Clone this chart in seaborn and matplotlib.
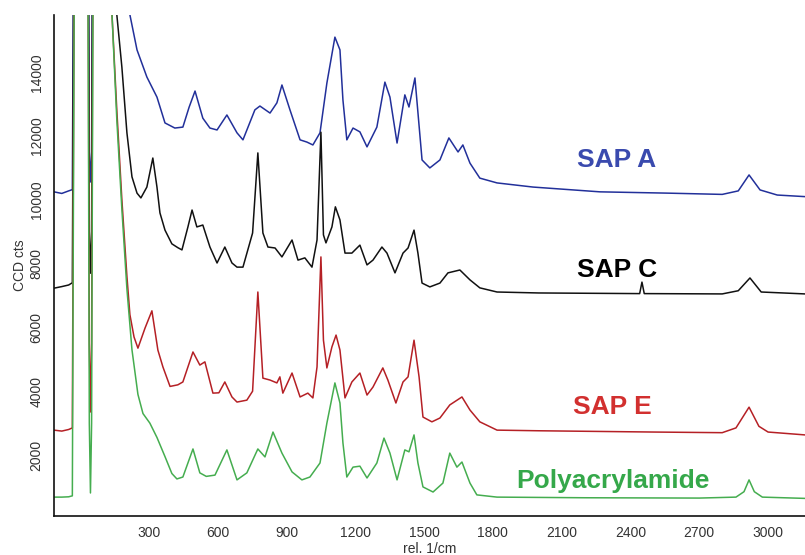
import matplotlib
matplotlib.use("Agg")
import matplotlib.pyplot as plt
import seaborn as sns
import pandas as pd

# ---------------- data ----------------
# Raman shift (rel. 1/cm) and intensity (CCD cts) for each spectrum
x_sap_a = [-114, -80, -50, -34, -14, 25, 40, 45, 50, 66, 150, 217, 248, 291, 335, 370, 413, 448,
           475, 501, 535, 566, 597, 640, 684, 710, 762, 784, 828, 858, 880, 915, 959, 989, 1015,
           1046, 1076, 1111, 1133, 1146, 1163, 1190, 1220, 1251, 1294, 1329, 1351, 1382, 1416,
           1434, 1460, 1491, 1525, 1569, 1608, 1648, 1669, 1700, 1743, 1818, 1975, 2267, 2559,
           2800, 2870, 2917, 2965, 3040, 3161]
y_sap_a = [10250, 10200, 10280, 10320, 40000, 40000, 11500, 10560, 11500, 40000, 22000, 15800,
           14700, 13850, 13220, 12410, 12250, 12280, 12900, 13410, 12560, 12250, 12190, 12660,
           12100, 11880, 12820, 12940, 12720, 13040, 13600, 12820, 11880, 11810, 11720, 12100,
           13660, 15100, 14700, 13130, 11880, 12250, 12130, 11660, 12280, 13690, 13220, 11780,
           13290, 12910, 13820, 11250, 11000, 11250, 11940, 11500, 11720, 11150, 10680, 10530,
           10400, 10250, 10210, 10170, 10280, 10780, 10310, 10150, 10100]

x_sap_c = [-114, -80, -50, -34, -14, 25, 40, 45, 50, 66, 120, 160, 182, 204, 226, 248, 265, 291,
           317, 335, 348, 370, 400, 426, 444, 470, 488, 509, 535, 566, 597, 631, 662, 684, 710,
           752, 775, 797, 819, 850, 880, 924, 950, 980, 1011, 1033, 1050, 1061, 1072, 1098, 1113,
           1133, 1155, 1185, 1220, 1251, 1277, 1316, 1338, 1373, 1408, 1430, 1456, 1473, 1491,
           1525, 1569, 1604, 1656, 1700, 1743, 1818, 2000, 2440, 2450, 2460, 2800, 2870, 2921,
           2970, 3161]
y_sap_c = [7230, 7280, 7330, 7400, 40000, 40000, 9000, 7700, 9000, 40000, 22000, 15800, 14160,
           12100, 10720, 10210, 10060, 10400, 11310, 10400, 9590, 9050, 8620, 8500, 8430, 9150,
           9680, 9150, 9210, 8520, 8020, 8520, 8020, 7890, 7890, 8960, 11470, 8960, 8520, 8490,
           8210, 8740, 8110, 8180, 7890, 8740, 12120, 8900, 8650, 9150, 9780, 9370, 8330, 8330,
           8580, 7960, 8110, 8520, 8330, 7710, 8330, 8490, 9050, 8330, 7390, 7270, 7390, 7710,
           7800, 7490, 7240, 7110, 7080, 7060, 7420, 7060, 7050, 7150, 7550, 7110, 7050]

x_sap_e = [-114, -80, -50, -34, -14, 25, 40, 45, 50, 66, 100, 139, 160, 182, 204, 217, 235, 252,
           283, 313, 339, 361, 392, 426, 448, 492, 522, 544, 579, 605, 631, 662, 684, 727, 752,
           775, 797, 828, 858, 871, 884, 924, 959, 993, 1015, 1033, 1050, 1061, 1076, 1098, 1116,
           1133, 1155, 1185, 1220, 1251, 1277, 1320, 1342, 1377, 1408, 1430, 1456, 1478, 1495,
           1534, 1569, 1612, 1665, 1700, 1743, 1818, 2000, 2500, 2800, 2860, 2917, 2960, 3000,
           3161]
y_sap_e = [2780, 2750, 2800, 2850, 40000, 40000, 5500, 3350, 5500, 40000, 30000, 15800, 12800,
           10000, 7600, 6400, 5700, 5350, 5980, 6520, 5290, 4760, 4150, 4200, 4290, 5230, 4820,
           4920, 3940, 3950, 4290, 3820, 3660, 3720, 4000, 7110, 4410, 4350, 4260, 4450, 3940,
           4570, 3820, 3940, 3790, 4760, 8210, 5600, 4730, 5390, 5760, 5290, 3790, 4290, 4570,
           3880, 4130, 4730, 4350, 3630, 4290, 4450, 5600, 4450, 3190, 3040, 3160, 3570, 3820,
           3410, 3040, 2780, 2760, 2720, 2700, 2850, 3500, 2900, 2720, 2630]

x_pam = [-114, -80, -50, -34, -14, 25, 40, 45, 50, 66, 100, 139, 160, 182, 204, 226, 252, 274,
         304, 335, 370, 400, 422, 448, 492, 522, 550, 588, 640, 684, 727, 775, 806, 841, 880, 924,
         967, 1002, 1046, 1076, 1111, 1133, 1146, 1163, 1190, 1220, 1251, 1294, 1325, 1351, 1382,
         1416, 1434, 1456, 1473, 1495, 1539, 1582, 1612, 1643, 1665, 1700, 1730, 1818, 2200, 2700,
         2860, 2895, 2917, 2940, 2975, 3161]
y_pam = [680, 680, 690, 720, 40000, 40000, 3000, 810, 3000, 40000, 30000, 15800, 12500, 9700,
         7200, 5300, 3900, 3300, 3000, 2550, 1950, 1420, 1250, 1310, 2190, 1440, 1330, 1370, 2160,
         1220, 1440, 2190, 1940, 2720, 2060, 1470, 1220, 1310, 1750, 3000, 4260, 3630, 2380, 1310,
         1620, 1650, 1280, 1750, 2530, 2060, 1220, 2160, 2100, 2630, 1750, 1000, 840, 1120, 2060,
         1620, 1780, 1120, 750, 680, 660, 650, 680, 850, 1220, 850, 680, 640]

series_names = ["SAP A", "SAP C", "SAP E", "Polyacrylamide"]
line_colors = ["#22309a", "#111111", "#b52025", "#45ad4f"]
label_colors = ["#3a4aae", "#000000", "#d2302f", "#35a84a"]
label_pos = [(2341, 11250), (2341, 7800), (2319, 3505), (2323, 1185)]

x_ticks = [300, 600, 900, 1200, 1500, 1800, 2100, 2400, 2700, 3000]
y_ticks = [2000, 4000, 6000, 8000, 10000, 12000, 14000]

# ---------------- plot ----------------
sns.set_style("white")
plt.rcParams["font.family"] = ["Liberation Sans", "DejaVu Sans"]

fig = plt.figure(figsize=(8.05, 5.55), dpi=100)
ax = fig.add_axes([54 / 805, 39 / 555, 751 / 805, 501 / 555])

xs = [x_sap_a, x_sap_c, x_sap_e, x_pam]
ys = [y_sap_a, y_sap_c, y_sap_e, y_pam]
for name, xv, yv, col in zip(series_names, xs, ys, line_colors):
    df = pd.DataFrame({"shift": xv, "cts": yv})
    sns.lineplot(data=df, x="shift", y="cts", color=col, linewidth=1.1,
                 estimator=None, sort=False, ax=ax)

for name, (tx, ty), col in zip(series_names, label_pos, label_colors):
    ax.text(tx, ty, name, color=col, fontsize=19, fontweight="bold",
            ha="center", va="center")

ax.set_xlim(-114, 3161)
ax.set_ylim(88, 15794)
ax.set_xticks(x_ticks)
ax.set_xticklabels([str(v) for v in x_ticks])
ax.set_yticks(y_ticks)
ax.set_yticklabels([str(v) for v in y_ticks], rotation=90, va="center")

for side in ["top", "right"]:
    ax.spines[side].set_visible(False)
for side in ["left", "bottom"]:
    ax.spines[side].set_color("#111111")
    ax.spines[side].set_linewidth(1.2)

ax.tick_params(axis="both", direction="inout", length=9, width=1.0,
               colors="#111111", labelcolor="#333333", labelsize=10, pad=3)
ax.set_xlabel("rel. 1/cm", fontsize=10, color="#333333", labelpad=1)
ax.set_ylabel("CCD cts", fontsize=10, color="#333333", labelpad=2)

fig.savefig("out.png", dpi=100)
